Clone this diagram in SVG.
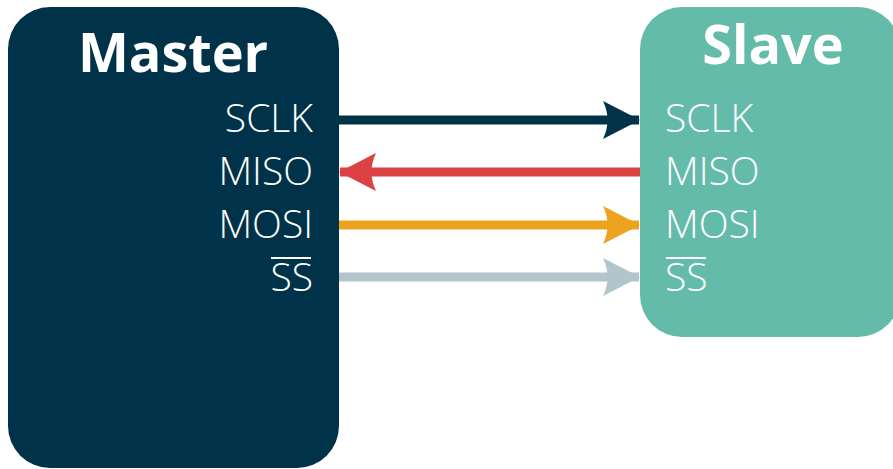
<svg xmlns="http://www.w3.org/2000/svg" width="893" height="469" viewBox="0 0 893 469">
<style>
.title{font-family:"Open Sans","Liberation Sans",sans-serif;font-weight:700;font-size:54px;fill:#fff;text-anchor:middle}
.lbl{font-family:"Open Sans","Liberation Sans",sans-serif;font-weight:300;font-size:39px;fill:#fff}
.ml{text-anchor:end}
.ov{stroke:#fff;stroke-width:2}
.wire{stroke-width:9;fill:none}
</style>
<defs>
<marker id="hNavy" markerUnits="userSpaceOnUse" markerWidth="37" markerHeight="40" viewBox="0 0 37 40" refX="36" refY="20" orient="auto"><path d="M0,1 L37,20 L0,39 Q9,20 0,1 Z" fill="#003349"/></marker>
<marker id="hRed" markerUnits="userSpaceOnUse" markerWidth="37" markerHeight="40" viewBox="0 0 37 40" refX="36" refY="20" orient="auto"><path d="M0,1 L37,20 L0,39 Q9,20 0,1 Z" fill="#DC4143"/></marker>
<marker id="hOrange" markerUnits="userSpaceOnUse" markerWidth="37" markerHeight="40" viewBox="0 0 37 40" refX="36" refY="20" orient="auto"><path d="M0,1 L37,20 L0,39 Q9,20 0,1 Z" fill="#EEA320"/></marker>
<marker id="hGray" markerUnits="userSpaceOnUse" markerWidth="37" markerHeight="40" viewBox="0 0 37 40" refX="36" refY="20" orient="auto"><path d="M0,1 L37,20 L0,39 Q9,20 0,1 Z" fill="#B2C4CC"/></marker>
</defs>
<rect width="893" height="469" fill="#fff"/>
<g id="master">
<rect x="8" y="7" width="331" height="461" rx="42" fill="#003349"/>
<text class="title" x="173" y="72">Master</text>
<text class="lbl ml" x="313" y="132">SCLK</text>
<text class="lbl ml" x="313" y="185">MISO</text>
<text class="lbl ml" x="313" y="238">MOSI</text>
<text class="lbl ml" x="313" y="291">SS</text>
<line class="ov" x1="271" y1="258" x2="311" y2="258"/>
</g>
<g id="slave">
<rect x="640" y="7" width="260" height="330" rx="42" fill="#64BBA9"/>
<text class="title" x="773" y="64">Slave</text>
<text class="lbl" x="665" y="132">SCLK</text>
<text class="lbl" x="665" y="185">MISO</text>
<text class="lbl" x="665" y="238">MOSI</text>
<text class="lbl" x="665" y="291">SS</text>
<line class="ov" x1="666" y1="258" x2="706" y2="258"/>
</g>
<g id="connectors">
<line class="wire" x1="339" y1="120" x2="639" y2="120" stroke="#003349" marker-end="url(#hNavy)"/>
<line class="wire" x1="640" y1="172" x2="340" y2="172" stroke="#DC4143" marker-end="url(#hRed)"/>
<line class="wire" x1="339" y1="225" x2="639" y2="225" stroke="#EEA320" marker-end="url(#hOrange)"/>
<line class="wire" x1="339" y1="277" x2="639" y2="277" stroke="#B2C4CC" marker-end="url(#hGray)"/>
</g>
</svg>
